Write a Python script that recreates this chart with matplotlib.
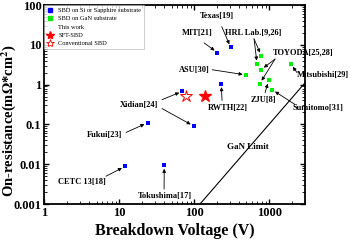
import matplotlib
matplotlib.use("Agg")
import matplotlib.pyplot as plt
from matplotlib.lines import Line2D

plt.rcParams['font.family'] = ['Liberation Serif', 'DejaVu Serif']
plt.rcParams['mathtext.fontset'] = 'stix'

# Data
blue_x = [12, 40, 24, 70, 99, 205, 308, 230]
blue_y = [0.0088, 0.0094, 0.11, 0.68, 0.091, 6.4, 8.6, 1.06]
green_x = [494, 789, 692, 782, 751, 990, 1096, 1946]
green_y = [1.75, 5.3, 3.3, 2.37, 1.06, 1.28, 0.75, 3.3]
sft_x, sft_y = [140], [0.53]
conv_x, conv_y = [77], [0.51]
limit_x = [120, 3000]
limit_y = [0.001, 1.1]

# Labels: text, text position, alignment, list of (arrow tail, arrow head)
labels = [
    ("Texas[19]", (201, 54), 'center', [((234, 28.7), (308, 8.6))]),
    ("MIT[21]", (110, 19.6), 'center', [((136, 11.2), (205, 6.4))]),
    ("HRL Lab.[9,26]", (621, 20), 'center', [((631, 14.1), (789, 5.3)), ((631, 14.1), (692, 3.3))]),
    ("TOYODA[25,28]", (2840, 6.4), 'center', [((1202, 4.4), (782, 2.37)), ((1202, 4.4), (751, 1.06))]),
    ("Mitsubishi[29]", (2340, 1.71), 'left', [((2362, 2.0), (1946, 3.3))]),
    ("ASU[30]", (100, 2.37), 'center', [((174, 2.37), (494, 1.75))]),
    ("ZJU[8]", (832, 0.4), 'center', [((885, 0.63), (990, 1.28))]),
    ("Sumitomo[31]", (4500, 0.266), 'center', [((2222, 0.316), (1096, 0.75))]),
    ("RWTH[22]", (284, 0.266), 'center', [((236, 0.4), (230, 1.06))]),
    ("Xidian[24]", (18.5, 0.316), 'center', [((37.4, 0.42), (70, 0.68)), ((37.4, 0.25), (99, 0.091))]),
    ("Fukui[23]", (6.3, 0.053), 'center', [((12.4, 0.063), (24, 0.11))]),
    ("CETC 13[18]", (3.2, 0.00355), 'center', [((6.7, 0.005), (12, 0.0088))]),
    ("Tokushima[17]", (40.4, 0.00158), 'center', [((39.8, 0.00237), (40, 0.0094))]),
]

fig = plt.figure(figsize=(3.5, 2.42), dpi=100)
ax = fig.add_axes([0.126, 0.157, 0.745, 0.822])

ax.plot(limit_x, limit_y, color='black', lw=0.8, zorder=1)
ax.scatter(blue_x, blue_y, marker='s', s=9, color='#0000ff', zorder=3, linewidths=0)
ax.scatter(green_x, green_y, marker='s', s=9, color='#00ee00', zorder=3, linewidths=0)
ax.plot(sft_x, sft_y, marker='*', ms=9, color='red', ls='none', zorder=4)
ax.plot(conv_x, conv_y, marker='*', ms=9, mfc='white', mec='red', mew=0.7, ls='none', zorder=4)

ax.set_xscale('log')
ax.set_yscale('log')
ax.set_xlim(1, 3000)
ax.set_ylim(0.001, 100)

ax.set_xticks([1, 10, 100, 1000])
ax.set_xticklabels(['1', '10', '100', '1000'])
ax.set_yticks([0.001, 0.01, 0.1, 1, 10, 100])
ax.set_yticklabels(['0.001', '0.01', '0.1', '1', '10', '100'])

ax.tick_params(which='both', direction='in', top=True, right=True)
ax.tick_params(which='major', length=3.5, width=1.0, labelsize=9, pad=2)
ax.tick_params(which='minor', length=2, width=0.6)
for lab in ax.get_xticklabels() + ax.get_yticklabels():
    lab.set_fontweight('bold')
for sp in ax.spines.values():
    sp.set_linewidth(1.3)

ax.set_xlabel('Breakdown Voltage (V)', fontsize=11.5, fontweight='bold', labelpad=3)
ax.set_ylabel('On-resistance(m$\\mathbf{\\Omega}$*cm$^\\mathbf{2}$)', fontsize=10.5, fontweight='bold')
ax.yaxis.set_label_coords(-0.10, 0.42)

arrowprops = dict(arrowstyle='-|>', lw=0.6, color='black', mutation_scale=5,
                  shrinkA=0, shrinkB=2.5)

for text, tpos, ha, arrows in labels:
    ax.text(tpos[0], tpos[1], text, fontsize=6, fontweight='bold', ha=ha, va='center',
            clip_on=False, zorder=5)
    for tail, head in arrows:
        ax.annotate('', xy=head, xytext=tail, arrowprops=arrowprops, annotation_clip=False)

ax.text(526, 0.0266, 'GaN Limit', fontsize=6.5, fontweight='bold', ha='center', va='center')

handles = [
    Line2D([], [], marker='s', color='#0000ff', ls='none', ms=3),
    Line2D([], [], marker='s', color='#00ee00', ls='none', ms=3),
    Line2D([], [], ls='none'),
    Line2D([], [], marker='*', color='red', ls='none', ms=6),
    Line2D([], [], marker='*', mfc='white', mec='red', mew=0.6, ls='none', ms=6),
]
names = ['SBD on Si or Sapphire substrate', 'SBD on GaN substrate', 'This work',
         'SFT-SBD', 'Conventional SBD']
leg = ax.legend(handles, names, loc='upper left', bbox_to_anchor=(0, 1), borderaxespad=0,
                fontsize=4.6, frameon=True, fancybox=False, edgecolor='#aaaaaa',
                handlelength=1.2, handletextpad=0.6, labelspacing=0.45, borderpad=0.4)
leg.get_frame().set_linewidth(0.5)

fig.savefig('out.png', dpi=100)
